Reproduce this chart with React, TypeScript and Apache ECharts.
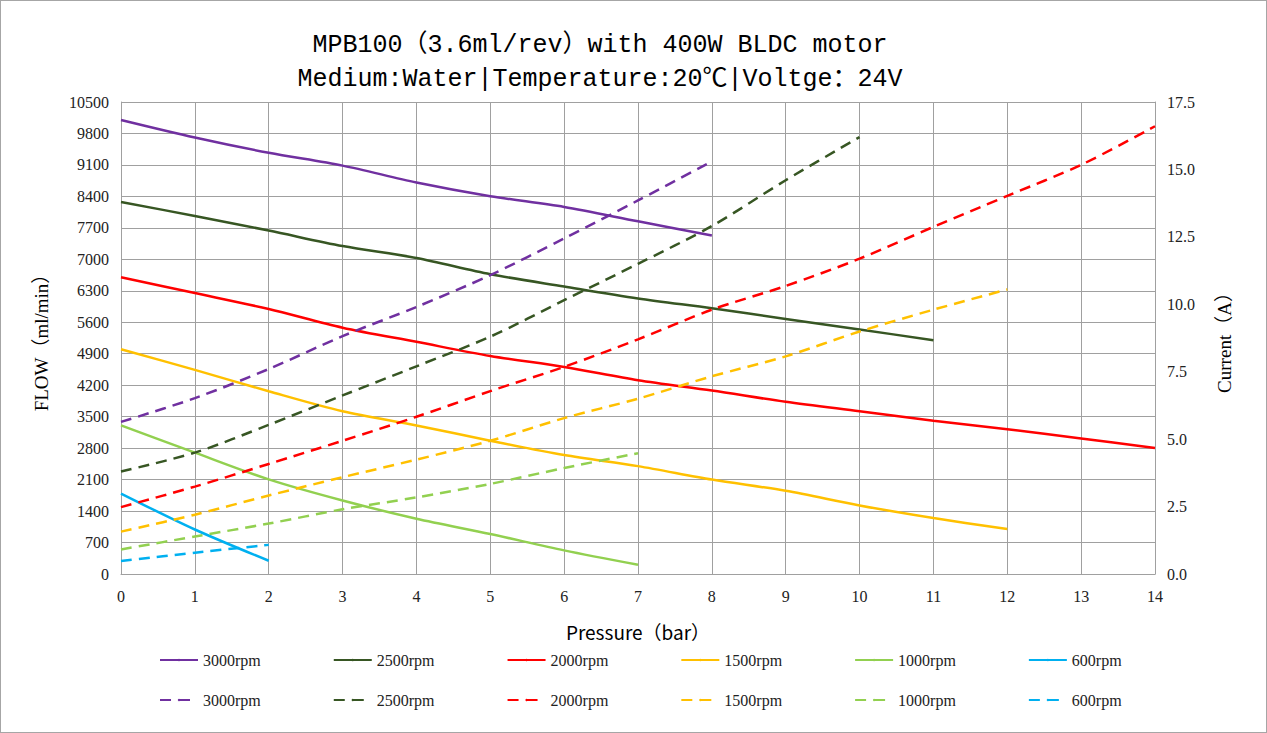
import { useEffect, useRef } from 'react'
import * as echarts from 'echarts'

// pressure steps (bar) shared by every curve
const pressures = [0, 1, 2, 3, 4, 5, 6, 7, 8, 9, 10, 11, 12, 13, 14]

const speeds = ['3000rpm', '2500rpm', '2000rpm', '1500rpm', '1000rpm', '600rpm']
const colors = ['#7030A0', '#375623', '#FF0000', '#FFC000', '#92D050', '#00B0F0']

// flow (ml/min), solid lines, left axis
const flow3000 = [10100, 9710, 9370, 9085, 8710, 8405, 8165, 7845, 7530]
const flow2500 = [8275, 7965, 7640, 7295, 7030, 6670, 6395, 6130, 5910, 5675, 5440, 5200]
const flow2000 = [6600, 6250, 5895, 5480, 5165, 4850, 4605, 4310, 4080, 3830, 3620, 3410, 3220, 3015, 2805]
const flow1500 = [5000, 4540, 4065, 3620, 3305, 2965, 2645, 2400, 2100, 1850, 1525, 1245, 1000]
const flow1000 = [3305, 2700, 2105, 1635, 1230, 890, 525, 205]
const flow600 = [1790, 990, 295]

// current (A), dashed lines, right axis
const current3000 = [5.64, 6.52, 7.6, 8.82, 9.9, 11.08, 12.44, 13.85, 15.3]
const current2500 = [3.8, 4.5, 5.53, 6.62, 7.7, 8.8, 10.15, 11.5, 12.9, 14.6, 16.2]
const current2000 = [2.48, 3.24, 4.08, 4.94, 5.83, 6.78, 7.68, 8.7, 9.8, 10.68, 11.69, 12.87, 14.02, 15.17, 16.6]
const current1500 = [1.57, 2.2, 2.91, 3.59, 4.24, 4.94, 5.78, 6.5, 7.33, 8.07, 8.99, 9.8, 10.55]
const current1000 = [0.91, 1.39, 1.87, 2.4, 2.84, 3.34, 3.93, 4.48]
const current600 = [0.48, 0.79, 1.08]

const flows = [flow3000, flow2500, flow2000, flow1500, flow1000, flow600]
const currents = [current3000, current2500, current2000, current1500, current1000, current600]

const SERIF = '"Liberation Serif", "Noto Sans CJK SC", serif'
const MONO = '"Liberation Mono", "Noto Sans CJK SC", monospace'

const toPoints = (vals: number[]) => vals.map((v, i) => [pressures[i], v])

const App: React.FC = () => {
  const chartRef = useRef<HTMLDivElement>(null)

  useEffect(() => {
    if (!chartRef.current) return
    document.body.style.margin = '0'
    const chart = echarts.init(chartRef.current, undefined, { renderer: 'svg' })

    const solidNames = speeds
    // zero-width suffix keeps dashed legend entries separate from the solid ones
    const dashedNames = speeds.map((s) => s + '\u200b')

    const series: any[] = []
    speeds.forEach((_, i) => {
      series.push({
        name: solidNames[i],
        type: 'line',
        yAxisIndex: 0,
        data: toPoints(flows[i]),
        smooth: 0.3,
        symbol: 'none',
        lineStyle: { color: colors[i], width: 2.5 },
        itemStyle: { color: colors[i] }
      })
    })
    speeds.forEach((_, i) => {
      series.push({
        name: dashedNames[i],
        type: 'line',
        yAxisIndex: 1,
        data: toPoints(currents[i]),
        smooth: 0.3,
        symbol: 'none',
        lineStyle: { color: colors[i], width: 2.5, type: [11, 7] },
        itemStyle: { color: colors[i] }
      })
    })

    // items sit 175px apart: 38 icon + 5 pad + ~58 text + gap
    const legendBase = {
      left: 158,
      padding: 0,
      orient: 'horizontal',
      itemWidth: 38,
      itemHeight: 3,
      itemGap: 72,
      textStyle: { fontFamily: SERIF, fontSize: 16, color: '#222' }
    }

    chart.setOption({
      animation: false,
      backgroundColor: '#ffffff',
      title: {
        text: 'MPB100（3.6ml/rev）with 400W BLDC motor\nMedium:Water|Temperature:20℃|Voltge：24V',
        left: 594,
        top: 22,
        textAlign: 'center',
        textStyle: {
          fontFamily: MONO,
          fontSize: 25,
          fontWeight: 'normal',
          color: '#000',
          lineHeight: 34
        }
      },
      legend: [
        { ...legendBase, top: 651, data: solidNames },
        { ...legendBase, top: 691, data: dashedNames, lineStyle: { type: [11, 8] } }
      ],
      grid: { left: 120, right: 111, top: 101, bottom: 158 },
      xAxis: {
        type: 'value',
        min: 0,
        max: 14,
        interval: 1,
        name: 'Pressure（bar）',
        nameLocation: 'middle',
        nameGap: 48,
        nameTextStyle: { fontFamily: '"Noto Sans CJK SC", sans-serif', fontSize: 19, color: '#000' },
        axisLine: { show: true, lineStyle: { color: '#a0a0a0' } },
        axisTick: { show: false },
        axisLabel: { fontFamily: SERIF, fontSize: 16, color: '#222', margin: 14 },
        splitLine: { show: true, lineStyle: { color: '#a0a0a0', width: 1 } }
      },
      yAxis: [
        {
          type: 'value',
          min: 0,
          max: 10500,
          interval: 700,
          name: 'FLOW（ml/min）',
          nameLocation: 'middle',
          nameGap: 70,
          nameTextStyle: { fontFamily: SERIF, fontSize: 19, color: '#000' },
          axisLine: { show: true, lineStyle: { color: '#a0a0a0' } },
          axisTick: { show: false },
          axisLabel: {
            fontFamily: SERIF,
            fontSize: 16,
            color: '#222',
            margin: 12,
            formatter: (v: number) => String(v)
          },
          splitLine: { show: true, lineStyle: { color: '#a0a0a0', width: 1 } }
        },
        {
          type: 'value',
          min: 0,
          max: 17.5,
          interval: 2.5,
          position: 'right',
          name: 'Current（A）',
          nameLocation: 'middle',
          nameGap: 60,
          nameRotate: 90,
          nameTextStyle: { fontFamily: SERIF, fontSize: 19, color: '#000' },
          axisLine: { show: true, lineStyle: { color: '#a0a0a0' } },
          axisTick: { show: false },
          axisLabel: {
            fontFamily: SERIF,
            fontSize: 16,
            color: '#222',
            margin: 12,
            formatter: (v: number) => v.toFixed(1)
          },
          splitLine: { show: false }
        }
      ],
      series
    })

    return () => {
      chart.dispose()
    }
  }, [])

  return (
    <div
      style={{
        width: 1267,
        height: 733,
        border: '1px solid #a6a6a6',
        boxSizing: 'border-box',
        background: '#fff'
      }}
    >
      <div ref={chartRef} style={{ width: 1265, height: 731 }} />
    </div>
  )
}

export default App
